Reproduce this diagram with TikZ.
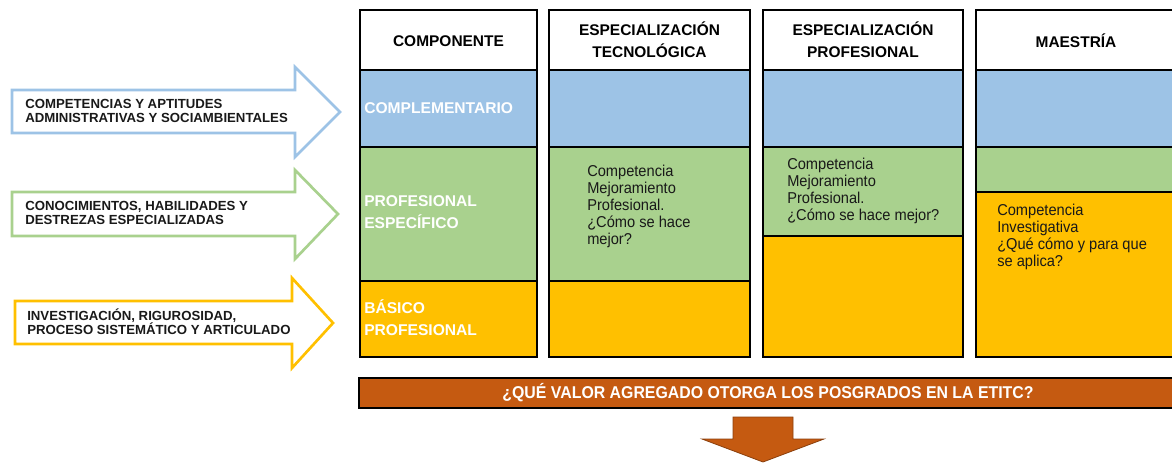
\documentclass[tikz,border=0pt]{standalone}
\usepackage{fontspec}
\setmainfont{Liberation Sans}
\newfontfamily\narrowfont[FakeStretch=0.93]{Liberation Sans}
\usepackage{xcolor}
\definecolor{compblue}{HTML}{9DC3E6}
\definecolor{compgreen}{HTML}{A9D18E}
\definecolor{compyellow}{HTML}{FFC000}
\definecolor{comporange}{HTML}{C55A11}

\begin{document}
\begin{tikzpicture}[x=0.75pt,y=-0.75pt]
\tikzset{cell/.style={draw=black,line width=1.6pt}}
\tikzset{side arrow/.style={fill=white,line width=2pt,line join=miter}}
\tikzset{head text/.style={font=\fontsize{11.6}{16.5}\selectfont\bfseries,align=center,text=black,inner sep=0pt}}
\tikzset{comp text/.style={font=\fontsize{11.7}{16.5}\selectfont\bfseries,align=left,text=white,anchor=west,inner sep=0pt}}
\tikzset{side text/.style={font=\fontsize{9.9}{10.7}\selectfont\bfseries,align=left,text=black!90,anchor=west,inner sep=0pt}}
\tikzset{body text/.style={font=\narrowfont\fontsize{11.8}{12.75}\selectfont,align=left,text=black!90,anchor=west,inner sep=0pt}}

\useasboundingbox (0,0) rectangle (1172,464);

\draw[side arrow,draw=compblue] (12,90) -- (295,90) -- (295,67) -- (340,112) -- (295,157) -- (295,133) -- (12,133) -- cycle;
\draw[side arrow,draw=compgreen] (12,192) -- (295,192) -- (295,170) -- (338,214) -- (295,259) -- (295,236) -- (12,236) -- cycle;
\draw[side arrow,draw=compyellow] (15,301) -- (292,301) -- (292,278) -- (333,323) -- (292,368) -- (292,344) -- (15,344) -- cycle;
\node[side text] (aptitudes) at (25,111) {COMPETENCIAS Y APTITUDES\\ADMINISTRATIVAS Y SOCIAMBIENTALES};
\node[side text] (destrezas) at (25,213) {CONOCIMIENTOS, HABILIDADES Y\\DESTREZAS ESPECIALIZADAS};
\node[side text] (rigurosidad) at (27,322) {INVESTIGACIÓN, RIGUROSIDAD,\\PROCESO SISTEMÁTICO Y ARTICULADO};

\draw[cell,fill=white] (360,10) rectangle (537,70);
\draw[cell,fill=compblue] (360,70) rectangle (537,147);
\draw[cell,fill=compgreen] (360,147) rectangle (537,281);
\draw[cell,fill=compyellow] (360,281) rectangle (537,357);

\draw[cell,fill=white] (549,10) rectangle (750,70);
\draw[cell,fill=compblue] (549,70) rectangle (750,147);
\draw[cell,fill=compgreen] (549,147) rectangle (750,281);
\draw[cell,fill=compyellow] (549,281) rectangle (750,357);

\draw[cell,fill=white] (763,10) rectangle (963,70);
\draw[cell,fill=compblue] (763,70) rectangle (963,147);
\draw[cell,fill=compgreen] (763,147) rectangle (963,236);
\draw[cell,fill=compyellow] (763,236) rectangle (963,357);

\draw[cell,fill=white] (976,10) rectangle (1176,70);
\draw[cell,fill=compblue] (976,70) rectangle (1176,147);
\draw[cell,fill=compgreen] (976,147) rectangle (1176,192);
\draw[cell,fill=compyellow] (976,192) rectangle (1176,357);

\node[head text] (componente) at (448.5,41) {COMPONENTE};
\node[head text] (tecnologica) at (649.5,40) {ESPECIALIZACIÓN\\TECNOLÓGICA};
\node[head text] (profesional) at (863,40) {ESPECIALIZACIÓN\\PROFESIONAL};
\node[head text] (maestria) at (1076,41) {MAESTRÍA};

\node[comp text] (complementario) at (364,108) {COMPLEMENTARIO};
\node[comp text] (especifico) at (364,212) {PROFESIONAL\\ESPECÍFICO};
\node[comp text] (basico) at (364,318) {BÁSICO\\PROFESIONAL};

\node[body text] (mejoratec) at (587,206.5) {Competencia\\Mejoramiento\\Profesional.\\¿Cómo se hace\\mejor?};
\node[body text] (mejorapro) at (787,191) {Competencia\\Mejoramiento\\Profesional.\\¿Cómo se hace mejor?};
\node[body text] (investigativa) at (997,236.5) {Competencia\\Investigativa\\¿Qué cómo y para que\\se aplica?};

\draw[cell,fill=comporange] (359,378) rectangle (1176,408);
\node[font=\narrowfont\fontsize{12.8}{14}\selectfont\bfseries,text=white,inner sep=0pt] (pregunta) at (768,393) {¿QUÉ VALOR AGREGADO OTORGA LOS POSGRADOS EN LA ETITC?};

\draw[fill=comporange,draw=comporange!70!black,line width=0.6pt] (733,417) -- (793,417) -- (793,439) -- (824,439) -- (763,462) -- (702,439) -- (733,439) -- cycle;

\end{tikzpicture}
\end{document}
